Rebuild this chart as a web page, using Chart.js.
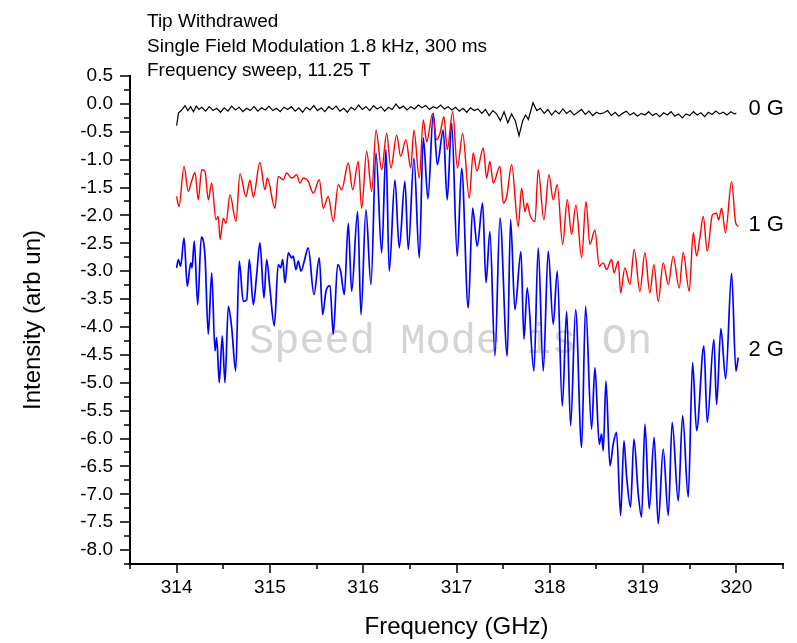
<!DOCTYPE html>
<html>
<head>
<meta charset="utf-8">
<title>Frequency sweep</title>
<script src="https://cdn.jsdelivr.net/npm/chart.js@4.4.1/dist/chart.umd.min.js"></script>
<style>
  html, body { margin: 0; padding: 0; background: #ffffff; }
  #chartOfSpectra { display: block; }
</style>
</head>
<body>
<canvas id="chartOfSpectra" width="797" height="643"></canvas>
<script>
'use strict';

// axis ticks
let xTickValues = [314, 315, 316, 317, 318, 319, 320];
let yTickValues = [0.5, 0, -0.5, -1, -1.5, -2, -2.5, -3, -3.5, -4, -4.5, -5, -5.5, -6, -6.5, -7, -7.5, -8];

// notes in the top left corner
let noteLines = ['Tip Withdrawed', 'Single Field Modulation 1.8 kHz, 300 ms', 'Frequency sweep, 11.25 T'];

// curve labels on the right, and the value they sit at
let curveNames = ['0 G', '1 G', '2 G'];
let curveNameLevels = [-0.09, -2.17, -4.42];

// 0 G trace
let blackFreq = [314.00, 314.02, 314.05, 314.09, 314.12, 314.15, 314.18, 314.21, 314.24, 314.27, 314.31, 314.35, 314.39, 314.43, 314.47, 314.51, 314.55, 314.59, 314.63, 314.67, 314.71, 314.75, 314.79, 314.83, 314.87, 314.91, 314.95, 314.99,
  315.03, 315.07, 315.11, 315.15, 315.19, 315.23, 315.27, 315.31, 315.35, 315.39, 315.43, 315.47, 315.51, 315.55, 315.59, 315.63, 315.67, 315.71, 315.75, 315.79, 315.83, 315.87, 315.91, 315.95, 315.99,
  316.03, 316.07, 316.11, 316.15, 316.19, 316.23, 316.27, 316.31, 316.35, 316.39, 316.43, 316.47, 316.51, 316.55, 316.59, 316.63, 316.67, 316.71, 316.75, 316.79, 316.83, 316.87, 316.91, 316.95, 316.99,
  317.03, 317.07, 317.11, 317.15, 317.19, 317.23, 317.27, 317.31, 317.35, 317.39, 317.43, 317.47, 317.51, 317.55, 317.59, 317.63, 317.67, 317.71, 317.74, 317.77, 317.82, 317.86, 317.90, 317.94, 317.98,
  318.02, 318.06, 318.10, 318.14, 318.18, 318.22, 318.26, 318.30, 318.34, 318.38, 318.42, 318.46, 318.50, 318.54, 318.58, 318.62, 318.66, 318.70, 318.74, 318.78, 318.82, 318.86, 318.90, 318.94, 318.98,
  319.02, 319.06, 319.10, 319.14, 319.18, 319.22, 319.26, 319.30, 319.34, 319.38, 319.42, 319.46, 319.50, 319.54, 319.58, 319.62, 319.66, 319.70, 319.74, 319.78, 319.82, 319.86, 319.90, 319.94, 319.98, 320.00];
let blackIntensity = [-0.39, -0.16, -0.12, -0.03, -0.12, -0.05, -0.14, -0.04, -0.10, -0.06, -0.13, -0.05, -0.12, -0.08, -0.15, -0.07, -0.13, -0.04, -0.11, -0.06, -0.14, -0.08, -0.12, -0.05, -0.13, -0.07, -0.11, -0.04,
  -0.12, -0.08, -0.14, -0.06, -0.10, -0.05, -0.13, -0.07, -0.15, -0.06, -0.11, -0.03, -0.12, -0.07, -0.14, -0.05, -0.10, -0.04, -0.13, -0.08, -0.15, -0.06, -0.11, -0.02, -0.10,
  -0.05, -0.12, -0.03, -0.09, -0.05, -0.13, -0.06, -0.10, 0.00, -0.08, -0.04, -0.11, -0.05, -0.09, -0.02, -0.07, -0.03, -0.10, -0.05, -0.08, -0.02, -0.09, -0.05, -0.11, -0.06,
  -0.13, -0.08, -0.15, -0.07, -0.12, -0.09, -0.17, -0.10, -0.21, -0.12, -0.18, -0.30, -0.14, -0.34, -0.18, -0.30, -0.57, -0.30, -0.20, -0.28, 0.02, -0.12, -0.08, -0.17, -0.10,
  -0.20, -0.12, -0.18, -0.09, -0.17, -0.12, -0.20, -0.15, -0.10, -0.19, -0.13, -0.21, -0.15, -0.18, -0.16, -0.12, -0.21, -0.15, -0.22, -0.17, -0.13, -0.20, -0.16, -0.22, -0.17,
  -0.20, -0.14, -0.21, -0.17, -0.23, -0.16, -0.20, -0.14, -0.22, -0.18, -0.25, -0.18, -0.21, -0.14, -0.20, -0.16, -0.23, -0.15, -0.19, -0.13, -0.18, -0.15, -0.20, -0.14, -0.18, -0.17];

// 1 G trace
let redFreq = [314.00, 314.025, 314.079, 314.125, 314.154, 314.197, 314.232, 314.268, 314.304, 314.339, 314.376, 314.422, 314.446, 314.465, 314.500, 314.529, 314.572, 314.636, 314.679, 314.743, 314.786, 314.822, 314.893, 314.947, 314.972,
  315.054, 315.089, 315.143, 315.180, 315.233, 315.287, 315.322, 315.357, 315.411, 315.465, 315.529, 315.572, 315.625, 315.679, 315.733, 315.769, 315.840, 315.887, 315.947, 315.983,
  316.037, 316.091, 316.137, 316.198, 316.251, 316.297, 316.359, 316.401, 316.458, 316.509, 316.544, 316.601, 316.644, 316.680, 316.744, 316.787, 316.823, 316.865, 316.901, 316.959,
  317.010, 317.066, 317.137, 317.179, 317.219, 317.287, 317.323, 317.358, 317.394, 317.466, 317.501, 317.538, 317.591, 317.662, 317.698, 317.734, 317.758, 317.787, 317.841, 317.876, 317.937, 317.991,
  318.037, 318.080, 318.138, 318.187, 318.234, 318.280, 318.341, 318.388, 318.430, 318.484, 318.530, 318.573, 318.609, 318.663, 318.688, 318.734, 318.759, 318.805, 318.859, 318.905, 318.966,
  319.020, 319.073, 319.116, 319.162, 319.216, 319.270, 319.323, 319.387, 319.430, 319.495, 319.538, 319.574, 319.609, 319.645, 319.688, 319.743, 319.788, 319.810, 319.842, 319.883, 319.949, 319.990, 320.020];
let redIntensity = [-1.66, -1.84, -1.12, -1.57, -1.42, -1.23, -1.72, -1.18, -1.21, -1.72, -1.42, -2.08, -2.02, -2.43, -2.05, -2.14, -1.63, -2.11, -1.25, -1.66, -1.37, -1.67, -1.05, -1.54, -1.33,
  -1.87, -1.30, -1.36, -1.24, -1.33, -1.27, -1.42, -1.33, -1.39, -1.60, -1.36, -1.87, -1.66, -2.11, -1.45, -1.54, -1.06, -1.54, -1.03, -1.87,
  -0.85, -1.57, -0.47, -1.18, -0.53, -1.15, -0.56, -0.94, -0.64, -1.15, -0.47, -1.33, -0.29, -0.68, -0.17, -0.64, -0.53, -0.23, -0.82, -0.14,
  -1.15, -0.53, -1.69, -0.88, -1.20, -0.79, -1.33, -1.03, -1.42, -1.12, -1.78, -1.66, -1.09, -2.20, -1.51, -1.93, -1.78, -1.99, -2.11, -1.18, -2.08, -1.27,
  -1.72, -1.45, -2.52, -1.72, -2.34, -1.81, -2.76, -1.75, -2.52, -2.26, -2.91, -2.85, -2.97, -2.79, -3.03, -2.82, -3.39, -2.94, -3.24, -2.61, -3.36,
  -2.67, -3.39, -2.88, -3.54, -2.85, -3.24, -2.73, -3.30, -2.67, -3.36, -2.31, -2.73, -2.40, -2.02, -2.64, -1.99, -1.96, -2.08, -1.87, -2.31, -1.39, -2.11, -2.20];

// 2 G trace
let blueFreq = [314.00, 314.018, 314.043, 314.079, 314.114, 314.151, 314.165, 314.189, 314.226, 314.264, 314.304, 314.339, 314.376, 314.411, 314.429, 314.457, 314.489, 314.518, 314.554, 314.590, 314.633, 314.671, 314.714, 314.751, 314.779, 314.822, 314.858, 314.893, 314.936, 314.965,
  315.001, 315.047, 315.089, 315.115, 315.137, 315.161, 315.197, 315.233, 315.250, 315.279, 315.304, 315.333, 315.368, 315.411, 315.472, 315.529, 315.565, 315.601, 315.644, 315.679, 315.726, 315.758, 315.797, 315.840, 315.876, 315.940, 315.976,
  316.029, 316.083, 316.137, 316.198, 316.244, 316.279, 316.340, 316.386, 316.447, 316.483, 316.544, 316.601, 316.644, 316.694, 316.751, 316.794, 316.858, 316.900, 316.948,
  317.008, 317.055, 317.126, 317.173, 317.222, 317.280, 317.316, 317.358, 317.412, 317.466, 317.544, 317.580, 317.626, 317.691, 317.723, 317.758, 317.830, 317.876, 317.930, 317.983,
  318.037, 318.080, 318.134, 318.181, 318.223, 318.277, 318.341, 318.384, 318.448, 318.484, 318.530, 318.555, 318.573, 318.602, 318.645, 318.680, 318.716, 318.759, 318.795, 318.823, 318.866, 318.902, 318.948, 318.984,
  319.020, 319.066, 319.119, 319.162, 319.216, 319.270, 319.312, 319.377, 319.424, 319.484, 319.531, 319.574, 319.652, 319.688, 319.759, 319.788, 319.834, 319.885, 319.949, 319.995, 320.020];
let blueIntensity = [-2.94, -2.79, -2.91, -2.40, -3.27, -2.85, -2.94, -2.46, -3.60, -2.39, -2.73, -4.13, -3.03, -4.43, -4.19, -5.00, -4.16, -5.00, -3.63, -4.01, -4.79, -2.82, -3.54, -3.51, -2.79, -3.60, -3.06, -2.49, -3.48, -2.79,
  -3.33, -3.98, -2.88, -2.94, -2.79, -3.21, -2.67, -2.76, -2.73, -2.97, -2.82, -3.00, -2.82, -2.58, -3.42, -2.76, -3.78, -3.36, -3.26, -4.13, -2.88, -3.00, -3.42, -2.14, -3.36, -1.93, -3.78,
  -1.90, -3.24, -0.88, -2.67, -0.82, -3.00, -1.36, -2.58, -1.39, -2.61, -0.97, -2.76, -0.61, -1.70, -0.17, -1.09, -0.47, -1.72, -0.35,
  -2.73, -1.15, -3.66, -1.87, -2.55, -1.78, -3.21, -2.29, -4.52, -2.05, -4.52, -2.08, -3.69, -2.65, -4.22, -3.30, -4.79, -2.58, -4.79, -2.64,
  -3.95, -3.00, -5.42, -3.72, -5.77, -3.69, -6.16, -3.63, -5.83, -4.73, -6.10, -5.92, -6.22, -4.97, -6.49, -6.10, -5.89, -7.38, -6.04, -6.67, -7.23, -6.01, -6.99, -7.41,
  -5.74, -7.26, -5.98, -7.53, -6.19, -7.38, -5.71, -7.12, -5.59, -7.05, -4.64, -5.86, -4.34, -5.71, -4.22, -5.39, -4.03, -4.93, -3.04, -4.79, -4.55];

// DOM references
let ctx = document.getElementById('chartOfSpectra');

const textFont = '"Liberation Sans", Arial, sans-serif';

function toPoints(freqs, values) {
  let points = [];
  for (let i = 0; i < freqs.length; i++) {
    points.push({ x: freqs[i], y: values[i] });
  }
  return points;
}

function setTicks(values) {
  return function (scale) {
    scale.ticks = values.map(v => ({ value: v }));
  };
}

// minor + major tick marks, drawn outward like the original plot
let tickMarksPlugin = {
  id: 'tickMarks',
  afterDraw(chart) {
    let c = chart.ctx;
    let xs = chart.scales.x;
    let ys = chart.scales.y;
    let area = chart.chartArea;
    c.save();
    c.strokeStyle = '#000';
    c.lineWidth = 1.5;
    c.beginPath();
    for (let i = 0; i < xTickValues.length; i++) {
      let px = Math.round(xs.getPixelForValue(xTickValues[i]));
      c.moveTo(px, area.bottom);
      c.lineTo(px, area.bottom + 9);
      let half = Math.round(xs.getPixelForValue(xTickValues[i] - 0.5));
      c.moveTo(half, area.bottom);
      c.lineTo(half, area.bottom + 5);
    }
    let lastHalf = Math.round(xs.getPixelForValue(xTickValues[xTickValues.length - 1] + 0.5));
    c.moveTo(lastHalf, area.bottom);
    c.lineTo(lastHalf, area.bottom + 5);
    for (let i = 0; i < yTickValues.length; i++) {
      let py = Math.round(ys.getPixelForValue(yTickValues[i]));
      c.moveTo(area.left, py);
      c.lineTo(area.left - 10, py);
      let quarter = Math.round(ys.getPixelForValue(yTickValues[i] - 0.25));
      c.moveTo(area.left, quarter);
      c.lineTo(area.left - 6, quarter);
    }
    c.stroke();
    c.restore();
  }
};

// watermark behind the traces
let watermarkPlugin = {
  id: 'watermark',
  beforeDatasetsDraw(chart) {
    let c = chart.ctx;
    c.save();
    c.font = '42px "Liberation Mono", "Courier New", monospace';
    c.fillStyle = '#d4d4d4';
    c.textBaseline = 'alphabetic';
    c.textAlign = 'left';
    c.fillText('Speed Mode is On', 249, 353);
    c.restore();
  }
};

// notes and curve names
let notesPlugin = {
  id: 'notes',
  afterDraw(chart) {
    let c = chart.ctx;
    let xs = chart.scales.x;
    let ys = chart.scales.y;
    c.save();
    c.fillStyle = '#000';
    c.textAlign = 'left';
    c.textBaseline = 'alphabetic';
    c.font = '19px ' + textFont;
    for (let i = 0; i < noteLines.length; i++) {
      c.fillText(noteLines[i], 147, 27 + i * 24.5);
    }
    c.font = '22px ' + textFont;
    c.textBaseline = 'middle';
    for (let i = 0; i < curveNames.length; i++) {
      c.fillText(curveNames[i], xs.getPixelForValue(320.13), ys.getPixelForValue(curveNameLevels[i]));
    }
    c.restore();
  }
};

let chartObject = {
  type: 'line',
  data: {
    datasets: [{
      label: '0 G',
      data: toPoints(blackFreq, blackIntensity),
      borderColor: '#000000',
      borderWidth: 1.2,
      pointRadius: 0,
      tension: 0
    },
    {
      label: '1 G',
      data: toPoints(redFreq, redIntensity),
      borderColor: '#ff0000',
      borderWidth: 1.4,
      pointRadius: 0,
      cubicInterpolationMode: 'monotone'
    },
    {
      label: '2 G',
      data: toPoints(blueFreq, blueIntensity),
      borderColor: '#0000ff',
      borderWidth: 1.7,
      pointRadius: 0,
      cubicInterpolationMode: 'monotone'
    }]
  },
  options: {
    responsive: false,
    devicePixelRatio: 1,
    animation: false,
    layout: {
      padding: { top: 76, right: 14, left: 0, bottom: 0 }
    },
    plugins: {
      legend: { display: false },
      tooltip: { enabled: false }
    },
    scales: {
      x: {
        type: 'linear',
        min: 313.5,
        max: 320.5,
        afterBuildTicks: setTicks(xTickValues),
        afterFit(scale) { scale.height = 79; },
        grid: { display: false, drawTicks: false },
        border: { display: true, color: '#000', width: 2 },
        ticks: {
          color: '#000',
          padding: 12,
          maxRotation: 0,
          font: { family: textFont, size: 19 },
          callback: value => String(value)
        },
        title: {
          display: true,
          text: 'Frequency (GHz)',
          color: '#000',
          font: { family: textFont, size: 24 },
          padding: { top: 0, bottom: 1 }
        }
      },
      y: {
        type: 'linear',
        min: -8.25,
        max: 0.5,
        afterBuildTicks: setTicks(yTickValues),
        afterFit(scale) { scale.width = 130; },
        grid: { display: false, drawTicks: false },
        border: { display: true, color: '#000', width: 2 },
        ticks: {
          color: '#000',
          padding: 17,
          font: { family: textFont, size: 19 },
          callback: value => value.toFixed(1)
        },
        title: {
          display: true,
          text: 'Intensity (arb un)',
          color: '#000',
          font: { family: textFont, size: 24 },
          padding: { top: 19, bottom: 0 }
        }
      }
    }
  },
  plugins: [watermarkPlugin, tickMarksPlugin, notesPlugin]
};

const chartOfSpectra = new Chart(ctx, chartObject);
</script>
</body>
</html>
